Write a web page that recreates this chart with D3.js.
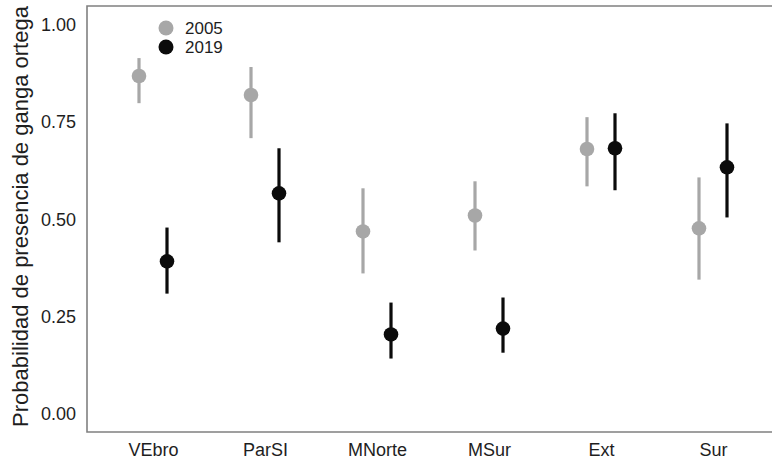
<!DOCTYPE html>
<html>
<head>
<meta charset="utf-8">
<script src="https://cdn.jsdelivr.net/npm/d3@7"></script>
<style>
  body { margin: 0; background: #fff; }
  text { font-family: "Liberation Sans", Arial, sans-serif; }
</style>
</head>
<body>
<svg id="chart" width="772" height="461"></svg>
<script>
// data
const regions = ["VEbro", "ParSI", "MNorte", "MSur", "Ext", "Sur"];
const years = ["2005", "2019"];
const est2005 = [0.869, 0.820, 0.469, 0.510, 0.681, 0.477];
const lo2005 = [0.799, 0.709, 0.361, 0.420, 0.585, 0.345];
const hi2005 = [0.915, 0.892, 0.580, 0.598, 0.763, 0.608];
const est2019 = [0.392, 0.567, 0.204, 0.219, 0.683, 0.634];
const lo2019 = [0.309, 0.441, 0.142, 0.157, 0.575, 0.505];
const hi2019 = [0.479, 0.683, 0.286, 0.299, 0.773, 0.747];
const yTicks = [0, 0.25, 0.5, 0.75, 1];
const colors = { "2005": "#a7a7a7", "2019": "#0b0b0b" };

const panel = { left: 87, top: 6, right: 772, bottom: 432 };

const svg = d3.select("#chart");

const xScale = d3.scalePoint()
  .domain(regions)
  .range([153, 713]);

const dodge = d3.scalePoint()
  .domain(years)
  .range([-14, 14]);

const yScale = d3.scaleLinear()
  .domain([-0.047, 1.049])
  .range([panel.bottom, panel.top]);

// build rows
const rows = [];
regions.forEach((r, i) => {
  rows.push({ region: r, year: "2005", est: est2005[i], lo: lo2005[i], hi: hi2005[i] });
  rows.push({ region: r, year: "2019", est: est2019[i], lo: lo2019[i], hi: hi2019[i] });
});

// panel border (open on the right, as cropped in the original)
svg.append("path")
  .attr("d", `M${panel.right},${panel.top}H${panel.left}V${panel.bottom}H${panel.right}`)
  .attr("fill", "none")
  .attr("stroke", "#808080")
  .attr("stroke-width", 1.6);

// y axis
const yAxis = svg.append("g")
  .attr("transform", `translate(${panel.left},0)`)
  .call(d3.axisLeft(yScale).tickValues(yTicks).tickSize(0).tickPadding(11).tickFormat(d3.format(".2f")));
yAxis.select(".domain").remove();
yAxis.selectAll("text")
  .style("font-size", "18px")
  .attr("fill", "#1e1e1e");

// x axis
const xAxis = svg.append("g")
  .attr("transform", `translate(0,${panel.bottom})`)
  .call(d3.axisBottom(xScale).tickSize(0).tickPadding(11));
xAxis.select(".domain").remove();
xAxis.selectAll("text")
  .style("font-size", "18px")
  .attr("fill", "#1e1e1e");

// y title
svg.append("text")
  .text("Probabilidad de presencia de ganga ortega")
  .attr("transform", `translate(28,${(6 + 427) / 2}) rotate(-90)`)
  .attr("text-anchor", "middle")
  .style("font-size", "22px")
  .attr("fill", "#1e1e1e");

// error bars
svg.selectAll(".ci")
  .data(rows)
  .enter().append("line")
  .attr("class", "ci")
  .attr("x1", d => xScale(d.region) + dodge(d.year))
  .attr("x2", d => xScale(d.region) + dodge(d.year))
  .attr("y1", d => yScale(d.lo))
  .attr("y2", d => yScale(d.hi))
  .attr("stroke", d => colors[d.year])
  .attr("stroke-width", 3.2);

// points
svg.selectAll(".pt")
  .data(rows)
  .enter().append("circle")
  .attr("class", "pt")
  .attr("cx", d => xScale(d.region) + dodge(d.year))
  .attr("cy", d => yScale(d.est))
  .attr("r", 7.3)
  .attr("fill", d => colors[d.year]);

// legend
const legend = svg.append("g");
years.forEach((y, i) => {
  legend.append("circle")
    .attr("cx", 166)
    .attr("cy", 28 + i * 19)
    .attr("r", 7.5)
    .attr("fill", colors[y]);
  legend.append("text")
    .text(y)
    .attr("x", 185)
    .attr("y", 28 + i * 19)
    .attr("dy", "0.35em")
    .style("font-size", "17px")
    .attr("fill", "#1e1e1e");
});
</script>
</body>
</html>
